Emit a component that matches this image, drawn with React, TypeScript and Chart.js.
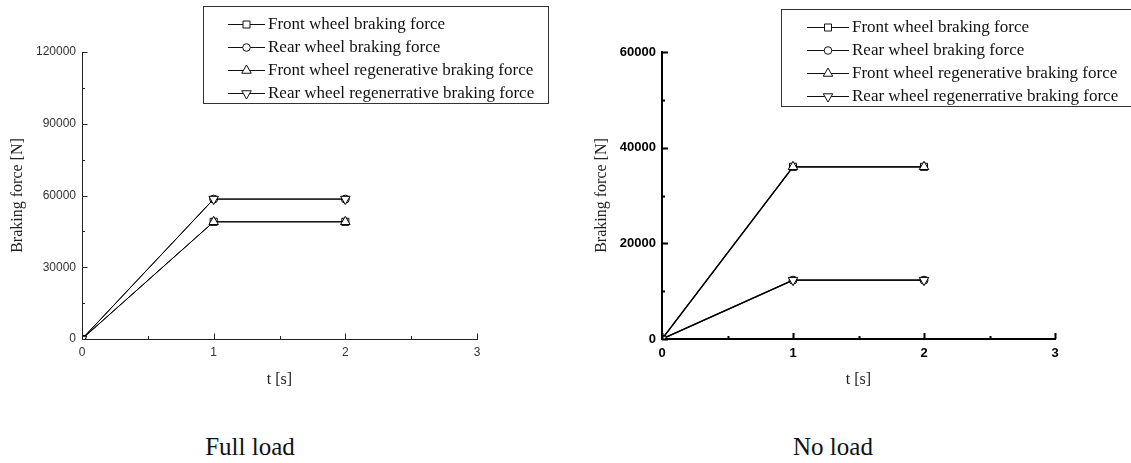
import React, { useEffect, useRef } from 'react';
import { Chart, registerables } from 'chart.js';

Chart.register(...registerables);

// ---- data ----
const timeSeconds = [0, 1, 2];
const seriesLabels = [
  'Front wheel braking force',
  'Rear wheel braking force',
  'Front wheel regenerative braking force',
  'Rear wheel regenerrative braking force',
];
// Full load
const fullFrontBraking = [0, 49000, 49000];
const fullRearBraking = [0, 58500, 58500];
const fullFrontRegen = [0, 49000, 49000];
const fullRearRegen = [0, 58500, 58500];
// No load
const noFrontBraking = [0, 36000, 36000];
const noRearBraking = [0, 12300, 12300];
const noFrontRegen = [0, 36000, 36000];
const noRearRegen = [0, 12300, 12300];

const xTickValues = [0, 1, 2, 3];
const fullYTicks = [0, 30000, 60000, 90000, 120000];
const noYTicks = [0, 20000, 40000, 60000];
const captions = ['Full load', 'No load'];
const xTitle = 't [s]';
const yTitle = 'Braking force [N]';

const SERIF = "'Liberation Serif', 'Times New Roman', serif";
const SANS = "'Liberation Sans', Arial, sans-serif";
const CANVAS_H = 400;

type Panel = {
  caption: string;
  series: number[][];
  yTicks: number[];
  bold: boolean;
  canvasLeft: number;
  canvasWidth: number;
  axisWidth: number;
  padRight: number;
  yTitlePad: number;
  captionX: number;
  axisLineWidth: number;
  axisColor: string;
  labelColor: string;
  labelSize: number;
  dataLineWidth: number;
  majorLen: number;
  minorLen: number;
  xTickPad: number;
  legend: { x: number; y: number; w: number; h: number; rows: number[]; lineX0: number; lineX1: number; textX: number };
};

const panels: Panel[] = [
  {
    caption: captions[0],
    series: [fullFrontBraking, fullRearBraking, fullFrontRegen, fullRearRegen],
    yTicks: fullYTicks,
    bold: false,
    canvasLeft: 0,
    canvasWidth: 565,
    axisWidth: 82,
    padRight: 88,
    yTitlePad: 8.4,
    captionX: 250,
    axisLineWidth: 1,
    axisColor: '#222',
    labelColor: '#333',
    labelSize: 12,
    dataLineWidth: 1,
    majorLen: 5.5,
    minorLen: 3,
    xTickPad: 6,
    legend: { x: 203, y: 6, w: 345, h: 97, rows: [24, 47, 70, 93], lineX0: 228, lineX1: 265, textX: 268 },
  },
  {
    caption: captions[1],
    series: [noFrontBraking, noRearBraking, noFrontRegen, noRearRegen],
    yTicks: noYTicks,
    bold: true,
    canvasLeft: 565,
    canvasWidth: 566,
    axisWidth: 97,
    padRight: 76,
    yTitlePad: 27.4,
    captionX: 833,
    axisLineWidth: 2,
    axisColor: '#000',
    labelColor: '#000',
    labelSize: 13,
    dataLineWidth: 1.3,
    majorLen: 6,
    minorLen: 3,
    xTickPad: 7,
    legend: { x: 216, y: 9, w: 360, h: 97, rows: [27, 50, 73, 96], lineX0: 242, lineX1: 284, textX: 287 },
  },
];

const markerStyles = [
  { ps: 'rect', rot: 0, r: 5 },
  { ps: 'circle', rot: 0, r: 4 },
  { ps: 'triangle', rot: 0, r: 5.5 },
  { ps: 'triangle', rot: 180, r: 5.5 },
];

function drawMarker(ctx: CanvasRenderingContext2D, ps: string, rot: number, cx: number, cy: number) {
  ctx.beginPath();
  if (ps === 'rect') {
    ctx.rect(cx - 3.5, cy - 3.5, 7, 7);
  } else if (ps === 'circle') {
    ctx.arc(cx, cy, 3.8, 0, Math.PI * 2);
  } else {
    const r = 5.5;
    const s = rot === 180 ? -1 : 1;
    ctx.moveTo(cx, cy - s * r);
    ctx.lineTo(cx + 0.866 * r, cy + s * 0.5 * r);
    ctx.lineTo(cx - 0.866 * r, cy + s * 0.5 * r);
    ctx.closePath();
  }
  ctx.fillStyle = '#fff';
  ctx.fill();
  ctx.stroke();
}

const boxLegend = {
  id: 'boxLegend',
  afterDraw(chart: any, _args: any, opts: any) {
    const ctx: CanvasRenderingContext2D = chart.ctx;
    const L = opts.box;
    if (!L) return;
    ctx.save();
    ctx.fillStyle = '#fff';
    ctx.fillRect(L.x, L.y, L.w, L.h);
    ctx.strokeStyle = '#333';
    ctx.lineWidth = 1;
    ctx.strokeRect(L.x + 0.5, L.y + 0.5, L.w, L.h);
    chart.data.datasets.forEach((ds: any, i: number) => {
      const y = L.rows[i];
      ctx.strokeStyle = '#111';
      ctx.lineWidth = 1;
      ctx.beginPath();
      ctx.moveTo(L.lineX0, y + 0.5);
      ctx.lineTo(L.lineX1, y + 0.5);
      ctx.stroke();
      drawMarker(ctx, ds.pointStyle, ds.pointRotation, (L.lineX0 + L.lineX1) / 2, y + 0.5);
      ctx.fillStyle = '#111';
      ctx.font = `17px ${SERIF}`;
      ctx.textAlign = 'left';
      ctx.textBaseline = 'middle';
      ctx.fillText(ds.label, L.textX, y + 1);
    });
    ctx.restore();
  },
};

const innerTicks = {
  id: 'innerTicks',
  afterDatasetsDraw(chart: any, _args: any, opts: any) {
    const ctx: CanvasRenderingContext2D = chart.ctx;
    const xs = chart.scales.x;
    const ys = chart.scales.y;
    const area = chart.chartArea;
    ctx.save();
    ctx.strokeStyle = opts.color;
    ctx.lineWidth = opts.width;
    const xv = xs.ticks.map((t: any) => t.value);
    const yv = ys.ticks.map((t: any) => t.value);
    const bottom = area.bottom;
    const left = area.left;
    ctx.beginPath();
    xv.forEach((v: number, i: number) => {
      const px = Math.round(xs.getPixelForValue(v)) + 0.5;
      ctx.moveTo(px, bottom);
      ctx.lineTo(px, bottom - opts.major);
      if (i < xv.length - 1) {
        const pm = Math.round(xs.getPixelForValue((v + xv[i + 1]) / 2)) + 0.5;
        ctx.moveTo(pm, bottom);
        ctx.lineTo(pm, bottom - opts.minor);
      }
    });
    yv.forEach((v: number, i: number) => {
      const py = Math.round(ys.getPixelForValue(v)) + 0.5;
      ctx.moveTo(left, py);
      ctx.lineTo(left + opts.major, py);
      if (i < yv.length - 1) {
        const pm = Math.round(ys.getPixelForValue((v + yv[i + 1]) / 2)) + 0.5;
        ctx.moveTo(left, pm);
        ctx.lineTo(left + opts.minor, pm);
      }
    });
    ctx.stroke();
    ctx.restore();
  },
};

function buildConfig(p: Panel): any {
  const datasets = p.series.map((vals, i) => ({
    label: seriesLabels[i],
    data: timeSeconds.map((t, j) => ({ x: t, y: vals[j] })),
    borderColor: '#000',
    borderWidth: p.dataLineWidth,
    pointStyle: markerStyles[i].ps,
    pointRotation: markerStyles[i].rot,
    pointRadius: markerStyles[i].r,
    pointBackgroundColor: '#fff',
    pointBorderColor: '#000',
    pointBorderWidth: 1,
    order: 4 - i,
    tension: 0,
    fill: false,
  }));
  const tickFont = { family: SANS, size: p.labelSize, weight: p.bold ? 'bold' : 'normal' };
  return {
    type: 'line',
    data: { datasets },
    plugins: [innerTicks, boxLegend],
    options: {
      animation: false,
      responsive: false,
      devicePixelRatio: 1,
      layout: { padding: { top: 52, right: p.padRight, left: 0, bottom: CANVAS_H - 339 - 50 } },
      scales: {
        x: {
          type: 'linear',
          min: 0,
          max: 3,
          afterBuildTicks: (s: any) => {
            s.ticks = xTickValues.map((v) => ({ value: v }));
          },
          afterFit: (s: any) => {
            s.height = 50;
          },
          grid: { display: false, drawTicks: false },
          border: { display: true, color: p.axisColor, width: p.axisLineWidth },
          ticks: {
            padding: p.xTickPad,
            font: tickFont,
            color: p.labelColor,
            maxRotation: 0,
            autoSkip: false,
            callback: (v: any) => String(v),
          },
          title: {
            display: true,
            text: xTitle,
            color: '#222',
            font: { family: SERIF, size: 16 },
            padding: { top: 0, bottom: 0 },
          },
        },
        y: {
          type: 'linear',
          min: p.yTicks[0],
          max: p.yTicks[p.yTicks.length - 1],
          afterBuildTicks: (s: any) => {
            s.ticks = p.yTicks.map((v) => ({ value: v }));
          },
          afterFit: (s: any) => {
            s.width = p.axisWidth;
          },
          grid: { display: false, drawTicks: false },
          border: { display: true, color: p.axisColor, width: p.axisLineWidth },
          ticks: {
            padding: 6,
            font: tickFont,
            color: p.labelColor,
            autoSkip: false,
            callback: (v: any) => String(v),
          },
          title: {
            display: true,
            text: yTitle,
            color: '#222',
            font: { family: SERIF, size: 16 },
            padding: { top: p.yTitlePad, bottom: 0 },
          },
        },
      },
      plugins: {
        legend: { display: false },
        tooltip: { enabled: false },
        title: { display: false },
        innerTicks: { color: p.axisColor, width: p.axisLineWidth, major: p.majorLen, minor: p.minorLen },
        boxLegend: { box: p.legend },
      },
    },
  };
}

export default function App() {
  const leftRef = useRef<HTMLCanvasElement>(null);
  const rightRef = useRef<HTMLCanvasElement>(null);

  useEffect(() => {
    const refs = [leftRef, rightRef];
    const charts = panels.map((p, i) => new Chart(refs[i].current as HTMLCanvasElement, buildConfig(p)));
    return () => charts.forEach((c) => c.destroy());
  }, []);

  const refs = [leftRef, rightRef];
  return (
    <div style={{ position: 'fixed', left: 0, top: 0, width: 1131, height: 463, background: '#fff', overflow: 'hidden' }}>
      {panels.map((p, i) => (
        <canvas
          key={'c' + i}
          ref={refs[i]}
          width={p.canvasWidth}
          height={CANVAS_H}
          style={{ position: 'absolute', left: p.canvasLeft, top: 0, width: p.canvasWidth, height: CANVAS_H, display: 'block' }}
        />
      ))}
      {panels.map((p, i) => (
        <div
          key={'t' + i}
          style={{
            position: 'absolute',
            left: p.captionX - 100,
            width: 200,
            top: 432,
            textAlign: 'center',
            fontFamily: SERIF,
            fontSize: 25,
            lineHeight: '30px',
            color: '#111',
          }}
        >
          {p.caption}
        </div>
      ))}
    </div>
  );
}
